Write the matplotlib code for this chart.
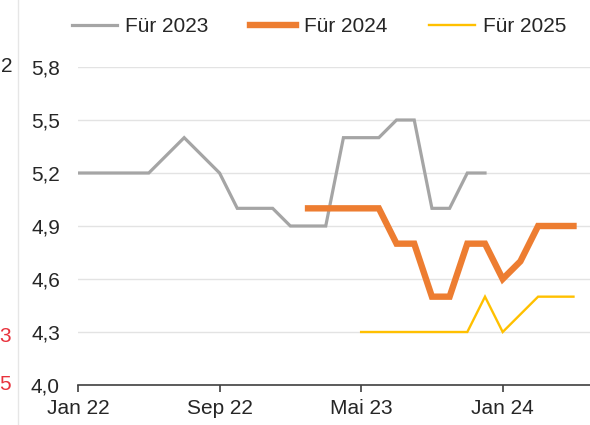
import numpy as np
import matplotlib
matplotlib.use("Agg")
import matplotlib.pyplot as plt
from matplotlib.lines import Line2D

plt.rcParams['font.family'] = ['Liberation Sans', 'DejaVu Sans']

# Months from Jan 22 to May 24 (index 0..28)
months = ["Jan 22", "Feb 22", "Mär 22", "Apr 22", "Mai 22", "Jun 22", "Jul 22", "Aug 22",
          "Sep 22", "Okt 22", "Nov 22", "Dez 22", "Jan 23", "Feb 23", "Mär 23", "Apr 23",
          "Mai 23", "Jun 23", "Jul 23", "Aug 23", "Sep 23", "Okt 23", "Nov 23", "Dez 23",
          "Jan 24", "Feb 24", "Mär 24", "Apr 24", "Mai 24"]
tick_labels = ["Jan 22", "Sep 22", "Mai 23", "Jan 24"]

fuer_2023 = [5.2, 5.2, 5.2, 5.2, 5.2, 5.3, 5.4, 5.3, 5.2, 5.0, 5.0, 5.0, 4.9, 4.9, 4.9,
             5.4, 5.4, 5.4, 5.5, 5.5, 5.0, 5.0, 5.2, 5.2]           # Jan 22 .. Dez 23
fuer_2024 = [5.0, 5.0, 5.0, 5.0, 5.0, 4.8, 4.8, 4.5, 4.5, 4.8, 4.8, 4.6, 4.7, 4.9, 4.9,
             4.9]                                                   # Feb 23 .. Mai 24
fuer_2025 = [4.3, 4.3, 4.3, 4.3, 4.3, 4.3, 4.3, 4.5, 4.3, 4.4, 4.5, 4.5, 4.5]  # Mai 23 .. Mai 24
start_2023, start_2024, start_2025 = "Jan 22", "Feb 23", "Mai 23"

y_ticks = [4.0, 4.3, 4.6, 4.9, 5.2, 5.5, 5.8]

def xs(start, vals):
    i0 = months.index(start)
    return np.arange(i0, i0 + len(vals))

FS = 15
fig = plt.figure(figsize=(5.9, 4.25), dpi=100)
W, H = 590, 425
ax = fig.add_axes([78 / W, (H - 385) / H, (W - 78) / W + 0.002, (385 - 67) / H])

c_gray, c_orange, c_yellow = "#A5A5A5", "#ED7D31", "#FFC000"
ax.plot(xs(start_2023, fuer_2023), fuer_2023, color=c_gray, lw=2.3, solid_joinstyle='miter', zorder=3)
ax.plot(xs(start_2024, fuer_2024), fuer_2024, color=c_orange, lw=4.6, solid_joinstyle='miter', zorder=4)
ax.plot(xs(start_2025, fuer_2025), fuer_2025, color=c_yellow, lw=1.7, solid_joinstyle='miter', zorder=5)

ax.set_xlim(0, 29)
ax.set_ylim(4.0, 5.8)
ax.set_yticks(y_ticks)
ax.set_yticklabels([f"{v:.1f}".replace(".", ",") for v in y_ticks])
ax.set_xticks([months.index(t) for t in tick_labels])
ax.set_xticklabels(tick_labels)

for s in ['top', 'right', 'left']:
    ax.spines[s].set_visible(False)
ax.spines['bottom'].set_color('#404040')
ax.spines['bottom'].set_linewidth(1.2)
ax.tick_params(axis='y', length=0, pad=13, labelsize=FS, labelcolor='#262626')
ax.tick_params(axis='x', length=5, width=1.2, color='#404040', pad=5, labelsize=FS, labelcolor='#262626')
ax.yaxis.grid(True, color='#E3E3E3', lw=1)
ax.set_axisbelow(True)

handles = [Line2D([], [], color=c_gray, lw=2.3),
           Line2D([], [], color=c_orange, lw=4.6),
           Line2D([], [], color=c_yellow, lw=1.7)]
fig.legend(handles, ["Für 2023", "Für 2024", "Für 2025"], ncol=3, frameon=False,
           loc='center', bbox_to_anchor=(319 / W, 1 - 27 / H), fontsize=FS,
           handlelength=2.2, handletextpad=0.38, columnspacing=2.0, labelcolor='#262626',
           borderpad=0, borderaxespad=0)

# remnants of neighbouring chart at far left
fig.add_artist(Line2D([18 / W, 18 / W], [0, 1], color='#E6E6E6', lw=1))
fig.text(12 / W, 1 - 67 / H, "2", ha='right', va='center', fontsize=FS, color='#262626')
fig.text(11 / W, 1 - 337 / H, "3", ha='right', va='center', fontsize=FS, color='#E8323C')
fig.text(11 / W, 1 - 385 / H, "5", ha='right', va='center', fontsize=FS, color='#E8323C')

fig.savefig("out.png", dpi=100)
